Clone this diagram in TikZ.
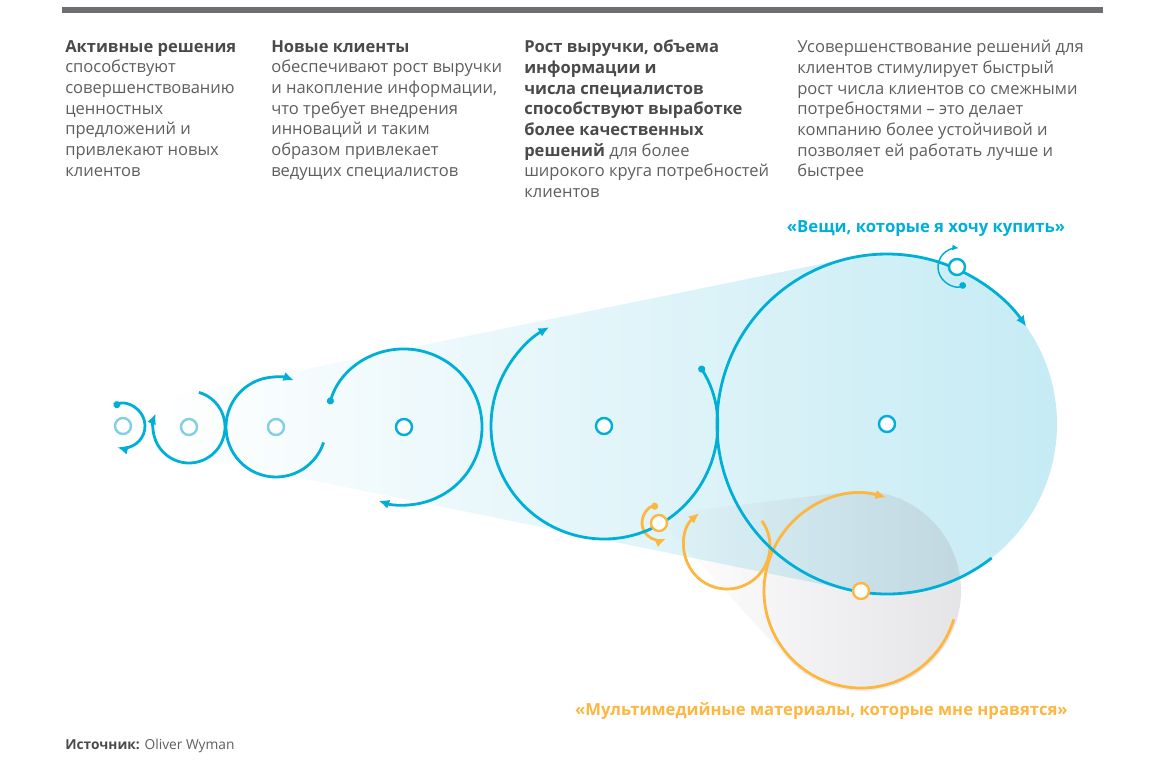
\documentclass[tikz,border=0pt]{standalone}
\usepackage{fontspec}
\setmainfont{Open Sans}
\usetikzlibrary{arrows.meta,fadings}
\definecolor{wheel}{HTML}{00AFD7}
\definecolor{wheellight}{HTML}{80CFE6}
\definecolor{media}{HTML}{FDB741}
\definecolor{bodytext}{HTML}{5E5E61}
\definecolor{headtext}{HTML}{4A4A4D}
\definecolor{topbar}{HTML}{6D6E72}
\definecolor{conefill}{HTML}{C6EBF4}
\definecolor{graytint}{HTML}{A8A8B2}
\tikzfading[name=conefade, left color=transparent!100, right color=transparent!36]
\tikzfading[name=ballfade, left color=transparent!65, right color=transparent!0]
\newcommand\headword[1]{{\bfseries\color{headtext}#1}}

\begin{document}
\begin{tikzpicture}[x=0.75pt, y=0.75pt,
  ringlight/.style={circle, draw=wheellight, line width=1.8pt, fill=white, minimum size=12pt, inner sep=0pt},
  ringblue/.style={ringlight, draw=wheel},
  ringorange/.style={ringlight, draw=media},
  loopblue/.style={draw=wheel, line width=2.1pt, -{Latex[length=8pt, width=7pt]}},
  loopdot/.style={loopblue, {Circle[length=5.2pt]}-{Latex[length=8pt, width=7pt]}},
  looporange/.style={loopblue, draw=media},
  loopthin/.style={draw=wheel, line width=1.1pt, {Circle[length=5pt]}-{Latex[length=5pt, width=4.5pt]}},
  txt/.style={anchor=north west, align=left, inner sep=0pt, text=bodytext, font=\fontsize{12.4}{15.5}\selectfont},
  quote/.style={inner sep=0pt, font=\bfseries\fontsize{12.5}{15}\selectfont}]
  \useasboundingbox (0,0) rectangle (1174,-782);

  % Top bar
  \fill[topbar] (62,-7) rectangle (1103,-12.5);

  % Text
  \node[txt] (col1) at (65,-40) {\headword{Активные решения}\\способствуют\\совершенствованию\\ценностных\\предложений и\\привлекают новых\\клиентов};
  \node[txt] (col2) at (271,-40) {\headword{Новые клиенты}\\обеспечивают рост выручки\\и накопление информации,\\что требует внедрения\\инноваций и таким\\образом привлекает\\ведущих специалистов};
  \node[txt] (col3) at (524,-40) {\headword{Рост выручки, объема}\\\headword{информации и}\\\headword{числа специалистов}\\\headword{способствуют выработке}\\\headword{более качественных}\\\headword{решений} для более\\широкого круга потребностей\\клиентов};
  \node[txt] (col4) at (797,-40) {Усовершенствование решений для\\клиентов стимулирует быстрый\\рост числа клиентов со смежными\\потребностями – это делает\\компанию более устойчивой и\\позволяет ей работать лучше и\\быстрее};

  % Centres
  \coordinate (c1) at (123,-426);
  \coordinate (c2) at (189,-427);
  \coordinate (c3) at (276,-427);
  \coordinate (c4) at (404,-427);
  \coordinate (c5) at (604,-426);
  \coordinate (c6) at (887,-424);
  \coordinate (s1) at (957,-267);
  \coordinate (o1) at (659,-523);
  \coordinate (o2) at (727,-546);
  \coordinate (o3) at (861,-591);

  % Fills
  \shade[left color=white, right color=conefill!77.5] (150,-400.7) -- ([shift={(101.5:170)}]c6) arc[start angle=101.5, end angle=258.5, radius=170] -- (150,-447.3) -- cycle;
  \shade[left color=conefill!62.5, right color=conefill] (c6) circle[radius=170];
  \fill[graytint, fill opacity=0.3, path fading=conefade] (655,-515) -- ([shift={(96.5:100)}]o3) arc[start angle=96.5, end angle=222.9, radius=100] -- cycle;
  \fill[graytint, fill opacity=0.3, path fading=ballfade] (o3) circle[radius=100];

  % Orange arcs
  \draw[looporange] ([shift={(36:43)}]o2) arc[start angle=36, end angle=-230, radius=43];
  \draw[looporange] ([shift={(-17:97)}]o3) arc[start angle=-17, end angle=-285, radius=97];
  \draw[loopdot, draw=media] ([shift={(93:17)}]o1) arc[start angle=93, end angle=294, radius=17];

  % Blue arcs
  \draw[loopdot] ([shift={(115:22)}]c1) arc[start angle=115, end angle=-105, radius=22];
  \draw[loopblue] ([shift={(74:36)}]c2) arc[start angle=74, end angle=-202, radius=36];
  \draw[loopblue] ([shift={(-18:50)}]c3) arc[start angle=-18, end angle=-291, radius=50];
  \draw[loopdot] ([shift={(163:78)}]c4) arc[start angle=163, end angle=-109, radius=78];
  \draw[loopdot] ([shift={(32:113)}]c5) arc[start angle=32, end angle=-241, radius=113];
  \draw[loopblue] ([shift={(-52:170)}]c6) arc[start angle=-52, end angle=-325, radius=170];
  \draw[loopthin] ([shift={(-63:19)}]s1) arc[start angle=-63, end angle=-276, radius=19];

  % Markers
  \node[ringlight] (m1) at (c1) {};
  \node[ringlight] (m2) at (c2) {};
  \node[ringlight] (m3) at (c3) {};
  \node[ringblue] (m4) at (c4) {};
  \node[ringblue] (m5) at (c5) {};
  \node[ringblue] (m6) at (c6) {};
  \node[ringblue] (ms) at (s1) {};
  \node[ringorange] (mo1) at (o1) {};
  \node[ringorange] (mo3) at (o3) {};

  % Labels
  \node[quote, text=wheel] (buy) at (926,-229) {«Вещи, которые я хочу купить»};
  \node[quote, text=media, anchor=east] (like) at (1068,-711) {«Мультимедийные материалы, которые мне нравятся»};
  \node[anchor=west, inner sep=0pt, text=bodytext, font=\fontsize{10.3}{12}\selectfont] (src) at (65,-746) {\headword{Источник:} Oliver Wyman};
\end{tikzpicture}
\end{document}
